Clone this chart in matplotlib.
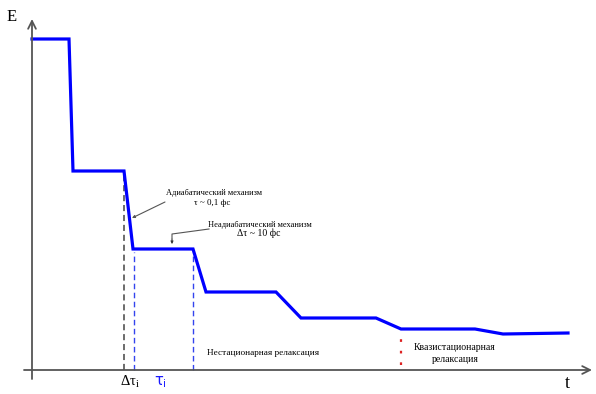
import matplotlib
matplotlib.use("Agg")
import matplotlib.pyplot as plt

# Energy curve (t, E) in arbitrary units
t_vals = [0, 37, 41, 92, 101, 161, 174, 244, 269, 344, 369, 443, 471, 536]
e_vals = [331, 331, 199, 199, 121, 121, 78, 78, 52, 52, 41, 41, 36, 37]

# Marker lines
t_black = 92      # Δτi
t_blue1 = 102     # start of τi
t_blue2 = 161     # end of τi
t_red = 369

plt.rcParams['font.family'] = ['Liberation Serif', 'DejaVu Serif']

fig = plt.figure(figsize=(5.96, 3.94), dpi=100)
ax = fig.add_axes([0, 0, 1, 1])
ax.set_xlim(-32, 564)
ax.set_ylim(-24, 370)
ax.axis('off')

axis_col = '#555555'
# axes with arrows
ax.annotate('', xy=(0, 351), xytext=(0, -9),
            arrowprops=dict(arrowstyle='->', color=axis_col, lw=1.3,
                            mutation_scale=14, shrinkA=0, shrinkB=0))
ax.annotate('', xy=(560, 0), xytext=(-8, 0),
            arrowprops=dict(arrowstyle='->', color=axis_col, lw=1.3,
                            mutation_scale=14, shrinkA=0, shrinkB=0))

# dashed markers
ax.plot([t_black, t_black], [0, 195], ls=(0, (4, 2.5)), color='#444444', lw=1.1)
ax.plot([t_blue1, t_blue1], [0, 118], ls=(0, (4, 2.5)), color='#3344ee', lw=1.0)
ax.plot([t_blue2, t_blue2], [0, 118], ls=(0, (4, 2.5)), color='#3344ee', lw=1.0)
ax.plot([t_red, t_red], [5, 35], ls=(0, (1.2, 4)), color='#dd2222', lw=1.6)

# main curve
ax.plot(t_vals, e_vals, color='#0000ff', lw=2.3, solid_joinstyle='miter')

# annotations
ax.text(182, 177, 'Адиабатический механизм', fontsize=6, ha='center', va='center')
ax.text(180, 167, 'τ ~ 0,1 фс', fontsize=6.5, ha='center', va='center')
ax.annotate('', xy=(100, 152), xytext=(133, 168),
            arrowprops=dict(arrowstyle='-|>', color='#555555', lw=0.8,
                            mutation_scale=4, shrinkA=0, shrinkB=0))

ax.text(228, 145, 'Неадиабатический механизм', fontsize=6, ha='center', va='center')
ax.text(227, 137, 'Δτ ~ 10 фс', fontsize=7, ha='center', va='center')
ax.plot([177, 140, 140], [141, 136, 131], color='#555555', lw=0.8)
ax.annotate('', xy=(140, 126), xytext=(140, 131),
            arrowprops=dict(arrowstyle='-|>', color='#333333', lw=0.6,
                            mutation_scale=4, shrinkA=0, shrinkB=0))

ax.text(231, 17, 'Нестационарная релаксация', fontsize=6.7, ha='center', va='center')
ax.text(423, 22, 'Квазистационарная', fontsize=7, ha='center', va='center')
ax.text(423, 11, 'релаксация', fontsize=7, ha='center', va='center')

ax.text(98, -12, 'Δτ$_\\mathregular{i}$', fontsize=10.5, ha='center', va='center')
ax.text(128, -12, 'τ$_\\mathregular{i}$', fontsize=10.5, ha='center', va='center',
        color='#1a1aff', family=['DejaVu Sans'])

ax.text(-20, 353, 'E', fontsize=12, ha='center', va='center')
ax.text(535, -13, 't', fontsize=13, ha='center', va='center')

fig.savefig('out.png', dpi=100)
